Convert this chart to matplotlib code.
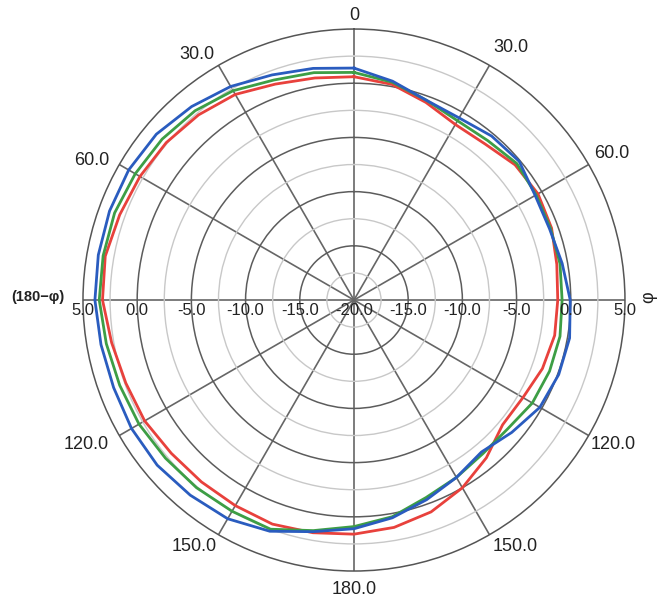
import matplotlib
matplotlib.use('Agg')
import matplotlib.pyplot as plt
import numpy as np

plt.rcParams['font.family'] = ['Liberation Sans', 'DejaVu Sans']

# angle measured clockwise from the top (deg), gain in dB
angles_deg = [0, 10, 20, 30, 40, 50, 60, 70, 80, 90, 100, 110, 120, 130, 140, 150, 160, 170,
              180, 190, 200, 210, 220, 230, 240, 250, 260, 270, 280, 290, 300, 310, 320, 330, 340, 350]

red_db = [0.6, 0.2, -0.6, -1.3, -1.2, -0.6, -0.4, -0.6, -1.0, -1.2, -1.2, -1.5, -2.0, -2.1, -1.0, 0.0, 0.8, 1.3,
          1.6, 1.8, 2.0, 1.9, 1.9, 2.0, 2.3, 2.4, 2.7, 3.2, 3.3, 3.0, 2.8, 2.6, 2.3, 1.9, 1.2, 0.8]
green_db = [1.0, 0.4, -0.4, -0.9, -0.8, -0.4, -0.6, -0.7, -0.7, -0.8, -0.7, -0.8, -1.0, -1.5, -1.5, -1.1, -0.6, 0.3,
            0.9, 1.6, 2.5, 2.5, 2.6, 2.7, 2.9, 3.0, 3.2, 3.5, 3.5, 3.5, 3.3, 3.1, 2.8, 2.3, 1.6, 1.3]
blue_db = [1.4, 0.5, -0.4, -0.6, -0.25, -0.1, -0.7, -0.8, -0.5, -0.05, 0.2, 0.1, -0.2, -1.0, -1.7, -1.1, -0.4, 0.4,
           1.1, 1.7, 2.7, 3.3, 3.5, 3.7, 3.7, 3.6, 3.7, 3.9, 3.95, 4.0, 4.0, 3.8, 3.3, 2.75, 2.1, 1.7]

theta_ticks = [0, 30, 60, 90, 120, 150, 180, 210, 240, 270, 300, 330]
theta_labels = ['0', '30.0', '60.0', 'φ', '120.0', '150.0', '180.0', '150.0', '120.0', '(180−φ)', '60.0', '30.0']
r_labels = [5, 0, -5, -10, -15]
r_min, r_max = -20, 5

# where each angle label sits relative to the outer ring, in pixels (right, down)
label_offsets = [(0, -14), (21, -18), (23, -11), (24, -3), (25, 9), (26, 12), (0, 18),
                 (-24, 12), (-33, 9), (-18, -3), (-28, -4), (-22, -11)]

fig = plt.figure(figsize=(6.67, 6), dpi=100)
ax = fig.add_axes([0.1244, 0.0483, 0.8126, 0.9033], projection='polar')
ax.set_theta_zero_location('N')
ax.set_theta_direction(-1)
ax.set_ylim(r_min, r_max)

# rings every 2.5 dB, darker on the 5 dB steps
rings = np.arange(-17.5, 5, 2.5)
ax.set_rgrids(rings, labels=[''] * len(rings))
for val, gl in zip(rings, ax.yaxis.get_gridlines()):
    if abs(val % 5) < 1e-6:
        gl.set_color('#5c5c5c')
        gl.set_linewidth(1.1)
    else:
        gl.set_color('#c8c8c8')
        gl.set_linewidth(1.0)
    gl.set_linestyle('-')

ax.set_thetagrids(theta_ticks, labels=[''] * len(theta_ticks))
for gl in ax.xaxis.get_gridlines():
    gl.set_color('#666666')
    gl.set_linewidth(1.2)
    gl.set_linestyle('-')
ax.spines['polar'].set_color('#555555')
ax.spines['polar'].set_linewidth(1.1)

th = np.deg2rad(angles_deg + [angles_deg[0]])
for vals, col in [(red_db, '#e8413c'), (green_db, '#3d9e45'), (blue_db, '#2a5cbf')]:
    ax.plot(th, vals + [vals[0]], color=col, linewidth=2.0, zorder=3, solid_joinstyle='round')

px = 72 / fig.dpi
for ang, lab, (dx, dy) in zip(theta_ticks, theta_labels, label_offsets):
    kw = dict(fontsize=13)
    if lab == 'φ':
        kw = dict(fontsize=13, rotation=90)
    elif lab.startswith('('):
        kw = dict(fontsize=10.5, fontweight='bold', ha='right')
    ax.annotate(lab, xy=(np.deg2rad(ang), r_max), xytext=(dx * px, -dy * px), textcoords='offset points',
                ha=kw.pop('ha', 'center'), va='center', color='#222222', annotation_clip=False, **kw)

# radial labels on both sides of the horizontal axis
for v in r_labels:
    for ang in (90, 270):
        ax.annotate(f'{v:.1f}', xy=(np.deg2rad(ang), v), xytext=(0, -2), textcoords='offset points',
                    ha='center', va='top', fontsize=12, color='#222222')
ax.annotate('-20.0', xy=(0, r_min), xytext=(0, -2), textcoords='offset points',
            ha='center', va='top', fontsize=12, color='#222222')

fig.savefig('out.png', dpi=100, facecolor='white')
